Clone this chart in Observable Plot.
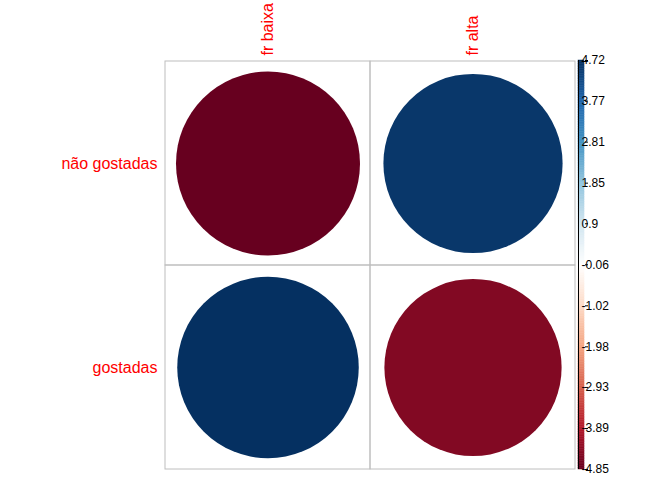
<!DOCTYPE html>
<html>
<head>
<meta charset="utf-8">
<script src="https://cdn.jsdelivr.net/npm/d3@7"></script>
<script src="https://cdn.jsdelivr.net/npm/@observablehq/plot@0.6"></script>
<style>
  html, body { margin: 0; padding: 0; background: #fff; }
  #wrap { position: relative; width: 672px; height: 480px; font-family: "Liberation Sans", Arial, sans-serif; }
  #wrap svg { position: absolute; left: 0; top: 0; background: transparent; }
</style>
</head>
<body>
<div id="wrap"></div>
<script>
// ---- data ----
const columns = ["fr baixa", "fr alta"];
const rows = ["não gostadas", "gostadas"];
const naoGostadas = [-4.85, 4.6];    // row "não gostadas"
const gostadas = [4.72, -4.5];       // row "gostadas"
const legendLabels = ["4.72", "3.77", "2.81", "1.85", "0.9", "-0.06", "-1.02", "-1.98", "-2.93", "-3.89", "-4.85"];
const palette = ["#67001F", "#B2182B", "#D6604D", "#F4A582", "#FDDBC7", "#FFFFFF",
                 "#D1E5F0", "#92C5DE", "#4393C3", "#2166AC", "#053061"];

// ---- build table ----
const seriesByRow = [naoGostadas, gostadas];
const table = [];
rows.forEach((r, i) => columns.forEach((c, j) => table.push({row: r, col: c, value: seriesByRow[i][j]})));
const legendValues = legendLabels.map(Number);
const colorMin = d3.min(legendValues), colorMax = d3.max(legendValues);
const maxAbs = d3.max(table, d => Math.abs(d.value));
const colorScale = {type: "linear", domain: [colorMin, colorMax], interpolate: d3.piecewise(d3.interpolateRgb, palette)};

const main = Plot.plot({
  width: 672, height: 480,
  marginLeft: 165, marginRight: 97, marginTop: 60, marginBottom: 11,
  style: {fontFamily: "Liberation Sans, Arial, sans-serif", background: "transparent"},
  x: {domain: columns, padding: 0, axis: null},
  y: {domain: rows, padding: 0, axis: null},
  r: {type: "sqrt", domain: [0, maxAbs], range: [0, 92]},
  color: colorScale,
  marks: [
    Plot.cell(table, {x: "col", y: "row", fill: "none", stroke: "#BEBEBE", strokeWidth: 1}),
    Plot.dot(table, {x: "col", y: "row", r: d => Math.abs(d.value), fill: "value", stroke: "none"}),
    Plot.axisX({anchor: "top", tickRotate: -90, tickSize: 0, tickPadding: 5, fontSize: 16, color: "red", label: null}),
    Plot.axisY({anchor: "left", tickSize: 0, tickPadding: 8, fontSize: 16, color: "red", label: null})
  ]
});

// color legend (vertical ramp)
const nSteps = 240;
const ramp = d3.range(nSteps).map(i => ({
  y1: colorMin + (colorMax - colorMin) * i / nSteps,
  y2: colorMin + (colorMax - colorMin) * (i + 1) / nSteps
}));
const legend = Plot.plot({
  width: 672, height: 480,
  marginLeft: 578, marginRight: 88, marginTop: 60, marginBottom: 11,
  style: {fontFamily: "Liberation Sans, Arial, sans-serif", background: "transparent"},
  x: {domain: [0, 1], axis: null},
  y: {domain: [colorMin, colorMax], axis: null},
  color: colorScale,
  marks: [
    Plot.rect(ramp, {x1: 0, x2: 1, y1: "y1", y2: "y2", fill: d => (d.y1 + d.y2) / 2, inset: 0, stroke: d => (d.y1 + d.y2) / 2, strokeWidth: 0.5}),
    Plot.ruleX([0], {stroke: "black", strokeWidth: 1}),
    Plot.axisY({anchor: "right", ticks: legendValues, tickFormat: d => legendLabels[legendValues.indexOf(d)],
                tickSize: 3, tickPadding: -6, fontSize: 12, color: "black", label: null})
  ]
});

document.getElementById("wrap").append(main, legend);
</script>
</body>
</html>
